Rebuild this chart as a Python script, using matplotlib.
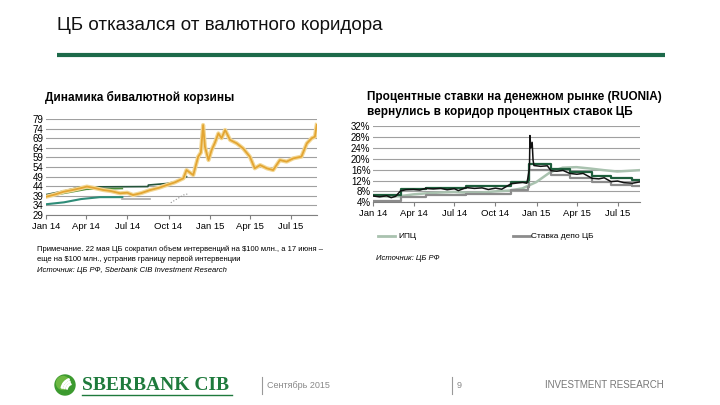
import pandas as pd
import matplotlib.pyplot as plt
import matplotlib.dates as mdates
from matplotlib.patches import Circle, Wedge
from matplotlib.ticker import FuncFormatter

plt.rcParams["font.family"] = ["Liberation Sans", "DejaVu Sans"]

# --- Динамика бивалютной корзины ---
basket_dates = ["2014-01-01", "2014-01-20", "2014-02-09", "2014-03-01", "2014-03-18", "2014-04-02",
                "2014-04-20", "2014-05-09", "2014-05-25", "2014-06-15", "2014-07-01", "2014-07-14",
                "2014-08-01", "2014-08-21", "2014-09-10", "2014-09-27", "2014-10-15", "2014-11-03",
                "2014-11-10", "2014-11-18", "2014-11-25", "2014-12-06", "2014-12-12", "2014-12-17",
                "2014-12-21", "2014-12-29", "2015-01-05", "2015-01-12", "2015-01-20", "2015-01-27",
                "2015-02-04", "2015-02-15", "2015-03-02", "2015-03-16", "2015-03-31", "2015-04-11",
                "2015-04-23", "2015-05-08", "2015-05-22", "2015-06-06", "2015-06-21", "2015-07-06",
                "2015-07-24", "2015-08-05", "2015-08-16", "2015-08-23", "2015-08-27"]
basket_values = [38.5, 39.6, 41.1, 42.0, 42.9, 43.8, 43.0, 42.0, 41.5, 40.3, 40.6, 39.4,
                 40.4, 42.0, 43.2, 44.6, 46.0, 48.1, 52.4, 51.0, 49.8, 59.4, 61.5, 75.9,
                 64.6, 57.6, 62.9, 66.5, 71.5, 69.0, 73.3, 68.1, 66.3, 63.7, 59.4, 53.3,
                 55.0, 53.3, 52.4, 57.6, 56.8, 58.5, 59.4, 66.3, 69.0, 69.8, 75.9]

upper_dates = ["2014-01-01", "2014-02-10", "2014-03-18", "2014-08-16", "2014-08-17", "2014-09-27",
               "2014-10-20", "2014-11-10"]
upper_values = [39.6, 41.5, 43.6, 43.8, 44.6, 45.4, 46.5, 49.0]
mid_dates = ["2014-01-01", "2014-02-15", "2014-04-01", "2014-06-20"]
mid_values = [38.6, 40.5, 42.4, 42.8]
lower_dates = ["2014-01-01", "2014-02-10", "2014-03-20", "2014-05-01", "2014-06-20"]
lower_values = [34.6, 35.6, 37.3, 38.3, 38.3]
lower2_dates = ["2014-06-20", "2014-08-20"]
lower2_values = [37.4, 37.4]
dot_dates = ["2014-10-06", "2014-11-03", "2014-11-13"]
dot_values = [35.4, 39.4, 40.0]

# --- Процентные ставки ---
ruonia_dates = ["2014-01-01", "2014-01-15", "2014-01-31", "2014-02-10", "2014-02-20", "2014-03-03",
                "2014-03-15", "2014-04-01", "2014-04-15", "2014-04-28", "2014-05-15", "2014-06-01",
                "2014-06-15", "2014-07-01", "2014-07-10", "2014-07-28", "2014-08-15", "2014-09-01",
                "2014-09-15", "2014-10-01", "2014-10-15", "2014-11-05", "2014-11-20", "2014-12-01",
                "2014-12-10", "2014-12-12", "2014-12-16", "2014-12-17", "2014-12-19", "2014-12-22",
                "2014-12-24", "2014-12-26", "2015-01-10", "2015-01-25", "2015-02-02", "2015-02-15",
                "2015-03-01", "2015-03-16", "2015-04-01", "2015-04-15", "2015-05-05", "2015-05-20",
                "2015-06-01", "2015-06-16", "2015-07-01", "2015-07-15", "2015-08-03", "2015-08-20"]
ruonia_values = [6.3, 6.0, 6.4, 5.7, 6.2, 8.2, 8.6, 8.7, 8.5, 9.1, 8.9, 9.1,
                 8.6, 9.0, 8.3, 9.4, 9.1, 9.3, 8.7, 9.2, 8.8, 10.8, 11.1, 11.3,
                 11.0, 12.5, 16.5, 28.5, 24.0, 26.0, 19.5, 17.5, 17.2, 17.4, 15.6, 15.4,
                 15.7, 14.6, 14.3, 14.6, 12.8, 12.6, 13.0, 11.6, 11.8, 11.2, 11.0, 11.5]

rate_dates = ["2014-01-01", "2014-03-03", "2014-04-28", "2014-07-28", "2014-11-05", "2014-12-12",
              "2014-12-16", "2015-02-02", "2015-03-16", "2015-05-05", "2015-06-16", "2015-08-03",
              "2015-08-20"]
lending_values = [6.5, 8.8, 9.2, 10.0, 11.5, 12.2, 18.2, 16.3, 15.3, 13.8, 12.8, 12.3, 12.3]
deposit_values = [4.6, 6.1, 6.6, 7.1, 8.6, 9.6, 16.0, 14.0, 13.0, 11.5, 10.5, 10.0, 10.0]

cpi_dates = ["2014-01-01", "2014-01-31", "2014-02-28", "2014-03-31", "2014-04-30", "2014-05-31",
             "2014-06-30", "2014-07-31", "2014-08-31", "2014-09-30", "2014-10-31", "2014-11-30",
             "2014-12-31", "2015-01-31", "2015-02-28", "2015-03-31", "2015-04-30", "2015-05-31",
             "2015-06-30", "2015-07-31", "2015-08-20"]
cpi_values = [6.5, 6.1, 6.2, 6.9, 7.3, 7.6, 7.8, 7.5, 7.6, 8.0, 8.3, 9.1,
              11.4, 15.0, 16.7, 16.9, 16.4, 15.8, 15.3, 15.6, 15.8]

c_green = "#1E5E3C"
c_cpi = "#A9C2AF"
c_depo = "#8C8C8C"

fig = plt.figure(figsize=(7.2, 4.05), dpi=100)

# фоновые оформления в пикселях
bg = fig.add_axes([0, 0, 1, 1], zorder=-1)
bg.set_xlim(0, 720)
bg.set_ylim(405, 0)
bg.axis("off")

bg.text(57, 25, "ЦБ отказался от валютного коридора", fontsize=13.5, va="center", ha="left",
        color="#111111")
bg.plot([57, 665], [55, 55], color="#1D6A4A", lw=3, solid_capstyle="butt")

bg.text(45, 97, "Динамика бивалютной корзины", fontsize=8.5, fontweight="bold", va="center")
bg.text(367, 97, "Процентные ставки на денежном рынке (RUONIA)", fontsize=8.5, fontweight="bold", va="center")
bg.text(367, 112, "вернулись в коридор процентных ставок ЦБ", fontsize=8.5, fontweight="bold", va="center")

bg.text(37, 249, "Примечание. 22 мая ЦБ сократил объем интервенций на $100 млн., а 17 июня –",
        fontsize=5.5, va="center")
bg.text(37, 259, "еще на $100 млн., устранив границу первой интервенции", fontsize=5.5, va="center")
bg.text(37, 270, "Источник: ЦБ РФ, Sberbank CIB Investment Research", fontsize=5.5, va="center",
        style="italic")

# легенда правого графика
bg.plot([378, 395], [236, 236], color=c_cpi, lw=2)
bg.text(398, 236, "ИПЦ", fontsize=6, va="center")
bg.plot([513, 530], [236, 236], color=c_depo, lw=2)
bg.text(531, 236, "Ставка депо ЦБ", fontsize=6, va="center")
bg.text(376, 258, "Источник: ЦБ РФ", fontsize=5.5, va="center", style="italic")

# подвал: логотип
bg.add_patch(Circle((65, 385), 10, color="#3C9A2F"))
bg.add_patch(Circle((63, 383), 6.5, color="#6DB842"))
for r in [4, 6.5, 9]:
    bg.add_patch(Wedge((73, 390), r + 3, 190, 250, width=1.2, color="white"))
bg.text(82, 385, "SBERBANK CIB", fontsize=14, fontweight="bold", va="center", color="#1E7A3C",
        family=["Liberation Serif", "DejaVu Serif"])
bg.plot([82, 232], [394.5, 394.5], color="#1E7A3C", lw=1)
bg.plot([262, 262], [377, 394], color="#999999", lw=0.8)
bg.text(267, 385, "Сентябрь 2015", fontsize=6.5, va="center", color="#888888")
bg.plot([452, 452], [377, 394], color="#999999", lw=0.8)
bg.text(457, 385, "9", fontsize=6.5, va="center", color="#888888")
bg.text(545, 385, "INVESTMENT RESEARCH", fontsize=7, va="center", color="#777777")


def style_axes(ax):
    for s in ["top", "right", "left"]:
        ax.spines[s].set_visible(False)
    ax.spines["bottom"].set_color("#808080")
    ax.grid(axis="y", color="#A0A0A0", lw=0.8)
    ax.set_axisbelow(True)
    ax.tick_params(axis="y", length=0, labelsize=7, pad=2)
    ax.tick_params(axis="x", length=3, color="#808080", labelsize=6.8, pad=2)
    ax.xaxis.set_major_locator(mdates.MonthLocator(bymonth=[1, 4, 7, 10]))
    ax.xaxis.set_major_formatter(mdates.DateFormatter("%b %y"))
    ax.set_facecolor("none")


# левый график
ax1 = fig.add_axes([46 / 720, 1 - 215 / 405, (316.7 - 46) / 720, 96 / 405])
style_axes(ax1)
d = pd.to_datetime
ax1.plot(d(upper_dates), upper_values, color="#24533A", lw=1.2)
ax1.plot(d(mid_dates), mid_values, color="#4F8F3A", lw=1.2)
ax1.plot(d(lower_dates), lower_values, color="#2E8C78", lw=1.5)
ax1.plot(d(lower2_dates), lower2_values, color="#A8A8A8", lw=1.2)
ax1.plot(d(dot_dates), dot_values, color="#909090", lw=0.8, ls=":")
ax1.plot(d(basket_dates), basket_values, color="#F3D896", lw=3.0, solid_joinstyle="round")
ax1.plot(d(basket_dates), basket_values, color="#E3A532", lw=1.3, solid_joinstyle="round")
ax1.set_ylim(29, 79)
ax1.set_yticks(range(29, 80, 5))
ax1.set_xlim(d("2014-01-01"), d("2015-08-27"))

# правый график
ax2 = fig.add_axes([373.3 / 720, 1 - 202.3 / 405, (640 - 373.3) / 720, 76.3 / 405])
style_axes(ax2)
ax2.plot(d(cpi_dates), cpi_values, color=c_cpi, lw=1.8)
ax2.plot(d(rate_dates), deposit_values, color=c_depo, lw=1.6, drawstyle="steps-post")
ax2.plot(d(rate_dates), lending_values, color=c_green, lw=1.6, drawstyle="steps-post")
ax2.plot(d(ruonia_dates), ruonia_values, color="#111111", lw=1.1)
ax2.set_ylim(4, 32)
ax2.set_yticks(range(4, 33, 4))
ax2.yaxis.set_major_formatter(FuncFormatter(lambda v, p: f"{v:.0f}%"))
ax2.set_xlim(d("2014-01-01"), d("2015-08-20"))

fig.savefig("out.png", dpi=100)
